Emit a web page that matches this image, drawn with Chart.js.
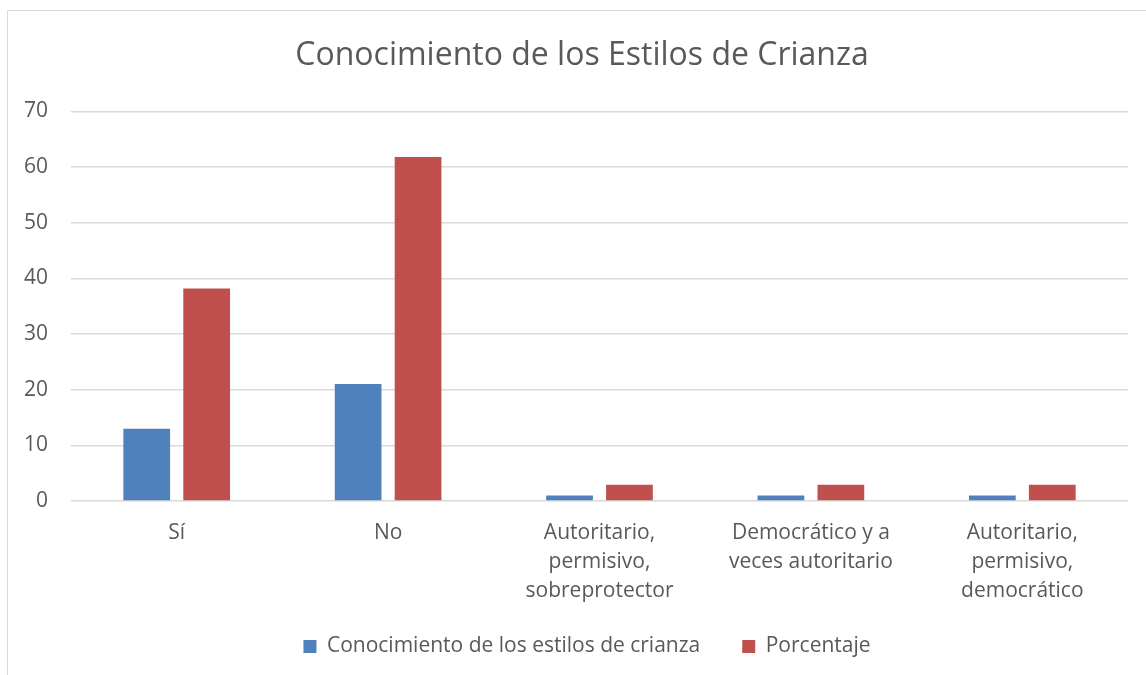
<!DOCTYPE html>
<html>
<head>
<meta charset="utf-8">
<script src="https://cdn.jsdelivr.net/npm/chart.js@4.4.0/dist/chart.umd.min.js"></script>
<style>
  html, body { margin: 0; background: #fff; overflow: hidden; }
  #marco {
    position: absolute; left: 7px; top: 10px;
    width: 1150px; height: 680px;
    border: 1px solid #d9d9d9; box-sizing: border-box;
  }
  #grafico { position: absolute; left: 0; top: 0; }
</style>
</head>
<body>
<div id="marco"><canvas id="grafico" width="1148" height="657"></canvas></div>
<script>
// ------------------ Datos ------------------
const categorias = [
    "Sí",
    "No",
    ["Autoritario,", "permisivo,", "sobreprotector"],
    ["Democrático y a", "veces autoritario"],
    ["Autoritario,", "permisivo,", "democrático"]
];
const conocimiento = [13, 21, 1, 1, 1];
const porcentaje = [38.2, 61.8, 2.9, 2.9, 2.9];
const ticksY = [0, 10, 20, 30, 40, 50, 60, 70];

const fuente = "'Open Sans', sans-serif";
const gris = '#595959';
const margenDerecho = 28;

// título y leyenda centrados en todo el ancho, no solo en el área del gráfico
// y etiquetas del eje x sin recortar (la leyenda ocupa parte de su espacio)
const ajustarBloques = {
    id: 'ajustarBloques',
    afterLayout(chart) {
        if (chart.titleBlock) chart.titleBlock.right += margenDerecho;
        if (chart.legend) chart.legend.right += margenDerecho + 10;
        chart.scales.x.bottom += 40;
    }
};

const ctx = document.getElementById('grafico').getContext('2d');
new Chart(ctx, {
    type: 'bar',
    data: {
        labels: categorias,
        datasets: [{
            label: 'Conocimiento de los estilos de crianza',
            data: conocimiento,
            backgroundColor: '#4f81bd'
        }, {
            label: 'Porcentaje',
            data: porcentaje,
            backgroundColor: '#c0504d'
        }]
    },
    options: {
        responsive: false,
        animation: false,
        categoryPercentage: 0.567,
        barPercentage: 0.78,
        layout: { padding: { left: 0, right: margenDerecho, top: 0, bottom: 1 } },
        plugins: {
            title: {
                display: true,
                text: 'Conocimiento de los Estilos de Crianza',
                color: gris,
                font: { family: fuente, size: 32, weight: 'normal', lineHeight: 1.2 },
                padding: { top: 26, bottom: 36 }
            },
            legend: {
                position: 'bottom',
                labels: {
                    color: gris,
                    font: { family: fuente, size: 21 },
                    boxWidth: 13,
                    boxHeight: 13,
                    padding: 42
                }
            },
            tooltip: { enabled: false }
        },
        scales: {
            x: {
                grid: { display: false, drawTicks: false },
                border: { display: false },
                afterFit: axis => { axis.height = 93; },
                ticks: {
                    color: gris,
                    font: { family: fuente, size: 21, lineHeight: 1.4 },
                    maxRotation: 0,
                    autoSkip: false,
                    padding: 17
                }
            },
            y: {
                min: 0,
                max: 70,
                afterBuildTicks: axis => { axis.ticks = ticksY.map(v => ({ value: v })); },
                afterFit: axis => { axis.width = 63; },
                grid: { color: '#d9d9d9', lineWidth: 1.5, drawTicks: false },
                border: { display: false },
                ticks: {
                    color: gris,
                    font: { family: fuente, size: 21 },
                    padding: 23
                }
            }
        }
    },
    plugins: [ajustarBloques]
});
</script>
</body>
</html>
